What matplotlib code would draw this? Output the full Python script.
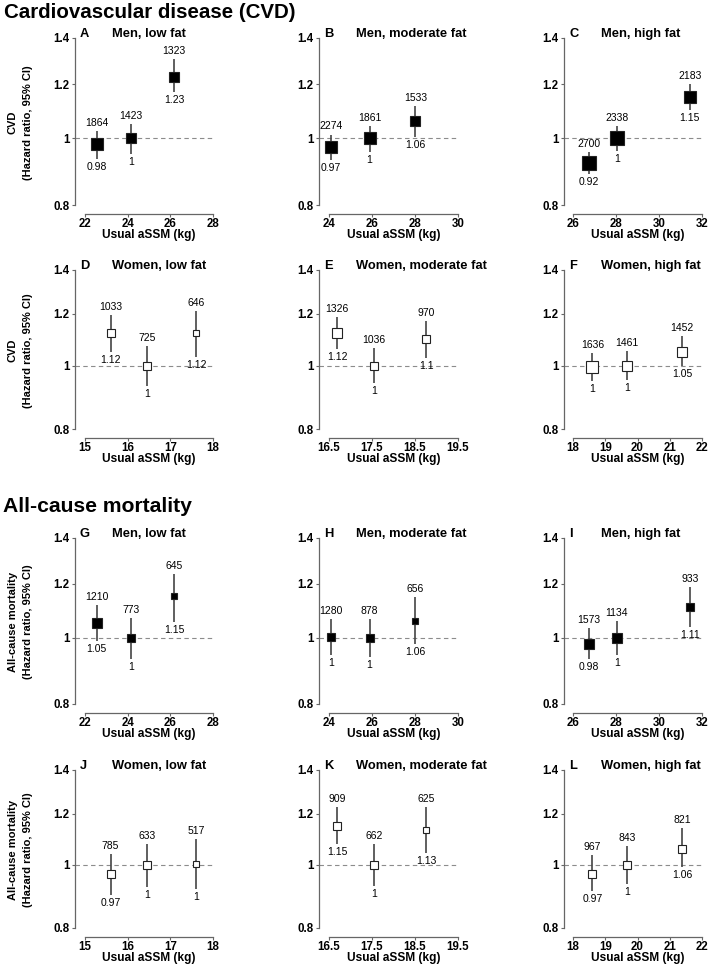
import numpy as np
import matplotlib
matplotlib.use('Agg')
import matplotlib.pyplot as plt
from matplotlib.ticker import NullLocator

plt.rcParams['font.family'] = ['Liberation Sans', 'DejaVu Sans']

letters = list('ABCDEFGHIJKL')
groups = ['Men, low fat', 'Men, moderate fat', 'Men, high fat',
          'Women, low fat', 'Women, moderate fat', 'Women, high fat']

# usual aSSM (kg) of the three categories, per group
assm_x = [[22.55, 24.16, 26.17], [24.08, 25.89, 28.02], [26.73, 28.03, 31.43],
          [15.6, 16.45, 17.61], [16.69, 17.55, 18.76], [18.6, 19.68, 21.38]]
x_ticks = [[22, 24, 26, 28], [24, 26, 28, 30], [26, 28, 30, 32],
           [15, 16, 17, 18], [16.5, 17.5, 18.5, 19.5], [18, 19, 20, 21, 22]]

# CVD: number of events, hazard ratio and 95% CI
cvd_n = [[1864, 1423, 1323], [2274, 1861, 1533], [2700, 2338, 2183],
         [1033, 725, 646], [1326, 1036, 970], [1636, 1461, 1452]]
cvd_hr = [[0.98, 1.00, 1.23], [0.97, 1.00, 1.06], [0.92, 1.00, 1.15],
          [1.12, 1.00, 1.12], [1.12, 1.00, 1.10], [0.996, 1.00, 1.05]]
cvd_lo = [[0.933, 0.949, 1.167], [0.93, 0.955, 1.004], [0.887, 0.959, 1.10],
          [1.05, 0.93, 1.03], [1.061, 0.941, 1.027], [0.948, 0.952, 0.998]]
cvd_hi = [[1.026, 1.049, 1.305], [1.013, 1.044, 1.114], [0.955, 1.041, 1.20],
          [1.196, 1.073, 1.21], [1.186, 1.065, 1.169], [1.045, 1.051, 1.108]]

# all-cause mortality
mort_n = [[1210, 773, 645], [1280, 878, 656], [1573, 1134, 933],
          [785, 633, 517], [909, 662, 625], [967, 843, 821]]
mort_hr = [[1.05, 1.00, 1.15], [1.002, 1.00, 1.06], [0.98, 1.00, 1.11],
           [0.97, 1.00, 1.004], [1.15, 1.00, 1.13], [0.97, 1.00, 1.06]]
mort_lo = [[0.99, 0.93, 1.055], [0.944, 0.936, 0.979], [0.931, 0.944, 1.038],
           [0.90, 0.926, 0.919], [1.076, 0.928, 1.045], [0.912, 0.934, 0.992]]
mort_hi = [[1.116, 1.07, 1.241], [1.065, 1.065, 1.148], [1.035, 1.059, 1.188],
           [1.04, 1.077, 1.097], [1.228, 1.076, 1.227], [1.037, 1.07, 1.141]]

y_ticks = [0.8, 1, 1.2, 1.4]

# layout in pixels
W, H = 709, 965
rows_px = [(38, 205), (270, 429), (538, 704), (770, 928)]   # y of 1.4 and 0.8
cols_px = [(75, 85, 213), (319, 329, 458), (564, 573, 702)]  # spine, first tick, last tick

fig = plt.figure(figsize=(W / 100, H / 100), dpi=100)

fig.text(4 / W, 1 - 12 / H, 'Cardiovascular disease (CVD)', fontsize=14.8,
         fontweight='bold', va='center')
fig.text(3 / W, 1 - 507 / H, 'All-cause mortality', fontsize=15.2,
         fontweight='bold', va='center')

for k in range(12):
    r, c = divmod(k, 3)
    g = (r % 2) * 3 + c
    if r < 2:
        n, hr, lo, hi = cvd_n[g], cvd_hr[g], cvd_lo[g], cvd_hi[g]
        ylab = 'CVD'
    else:
        n, hr, lo, hi = mort_n[g], mort_hr[g], mort_lo[g], mort_hi[g]
        ylab = 'All-cause mortality'
    men = g < 3

    y14, y08 = rows_px[r]
    sp, t0, t1 = cols_px[c]
    s = (y08 - y14) / np.log(1.4 / 0.8)
    ax_top, ax_bot = y14 - 8, y08 + 8.5
    ax_h = ax_bot - ax_top
    ax = fig.add_axes([sp / W, 1 - ax_bot / H, (t1 - sp) / W, ax_h / H])
    ax.set_yscale('log')
    ax.set_ylim(0.8 * np.exp(-8.5 / s), 1.4 * np.exp(8 / s))
    xt = x_ticks[g]
    ax.set_xlim(xt[0] - (t0 - sp) / (t1 - t0) * (xt[-1] - xt[0]), xt[-1])

    ax.set_yticks(y_ticks)
    ax.set_yticklabels(['0.8', '1', '1.2', '1.4'])
    ax.yaxis.set_minor_locator(NullLocator())
    ax.set_xticks(xt)
    ax.set_xticklabels(['%g' % v for v in xt])
    for side in ['top', 'right']:
        ax.spines[side].set_visible(False)
    ax.spines['left'].set_bounds(0.8, 1.4)
    ax.spines['bottom'].set_bounds(xt[0], xt[-1])
    for side in ['left', 'bottom']:
        ax.spines[side].set_color('#666666')
        ax.spines[side].set_linewidth(0.9)
    ax.tick_params(length=2.5, width=0.8, color='#666666', labelsize=8.3)
    ax.tick_params(axis='x', pad=0.6)
    ax.tick_params(axis='y', pad=1.5)
    for lab in ax.get_xticklabels() + ax.get_yticklabels():
        lab.set_fontweight('bold')
    ax.patch.set_alpha(0)

    ax.axhline(1, color='#8c8c8c', lw=0.8, ls=(0, (4, 3)), zorder=1)
    ax.vlines(assm_x[g], lo, hi, color='#444444', lw=1.2, zorder=2)
    for x, h, l, u, cnt in zip(assm_x[g], hr, lo, hi, n):
        side_px = 1.08 / np.log(u / l)
        ax.plot(x, h, marker='s', ms=side_px * 0.72, ls='none', zorder=3,
                mfc='black' if men else 'white', mec='#222222', mew=0.8)
        ax.annotate(str(cnt), (x, u), xytext=(0, 2.2), textcoords='offset points',
                    ha='center', va='bottom', fontsize=7.5, zorder=4)
        ax.annotate('%g' % round(h, 2), (x, l), xytext=(0, -2.2),
                    textcoords='offset points', ha='center', va='top',
                    fontsize=7.5, zorder=4)

    ax.set_xlabel('Usual aSSM (kg)', fontsize=8.6, fontweight='bold', va='center')
    ax.xaxis.set_label_coords(((t0 + t1) / 2 - sp) / (t1 - sp), -21.5 / ax_h)

    fig.text((sp + 5) / W, 1 - (y14 - 4) / H, letters[k], fontsize=9.3,
             fontweight='bold', va='center')
    fig.text((sp + 37) / W, 1 - (y14 - 4) / H, groups[g], fontsize=9.3,
             fontweight='bold', va='center')

    if c == 0:
        yc = (y14 + y08) / 2 + 1
        fig.text(13 / W, 1 - yc / H, ylab, rotation=90, fontsize=8,
                 fontweight='bold', ha='center', va='center')
        fig.text(28 / W, 1 - yc / H, '(Hazard ratio, 95% CI)', rotation=90,
                 fontsize=8, fontweight='bold', ha='center', va='center')

fig.savefig('out.png', dpi=100)
